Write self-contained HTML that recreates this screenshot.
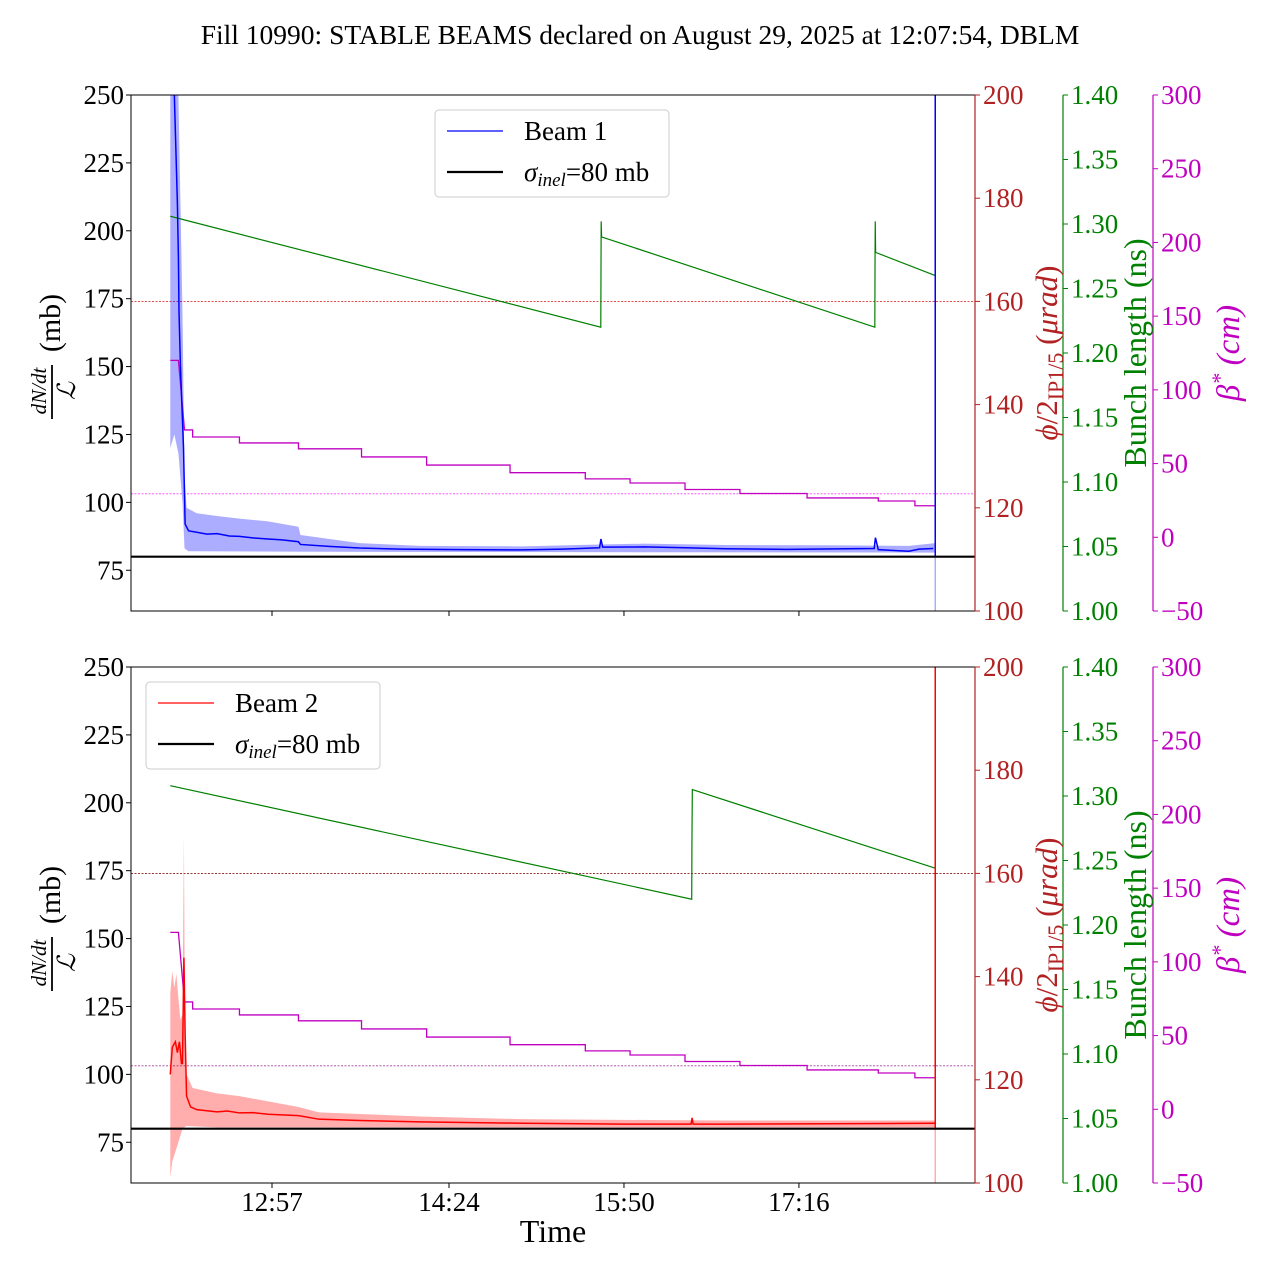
<!DOCTYPE html>
<html><head><meta charset="utf-8">
<style>
html,body{margin:0;padding:0;background:#fff;}
svg{display:block;font-family:"Liberation Serif","DejaVu Serif",serif;}
</style></head>
<body>
<svg id="chart" width="1280" height="1280" viewBox="0 0 1280 1280" xmlns="http://www.w3.org/2000/svg">
<rect width="1280" height="1280" fill="#fff"/>
<text x="640" y="44" font-size="27.5" text-anchor="middle">Fill 10990: STABLE BEAMS declared on August 29, 2025 at 12:07:54, DBLM</text>
<g id="top"></g>
<g id="bot"></g>
<text x="553" y="1242" font-size="32" text-anchor="middle">Time</text>
</svg>
<script>
// ---- data (time in minutes since midnight) ----
const xTickTimes = [777, 864, 950, 1036];
const xTickLabels = ["12:57", "14:24", "15:50", "17:16"];
const leftTicks = [75, 100, 125, 150, 175, 200, 225, 250];
const phiTicks = [100, 120, 140, 160, 180, 200];
const blTicks = [1.00, 1.05, 1.10, 1.15, 1.20, 1.25, 1.30, 1.35, 1.40];
const betaTicks = [-50, 0, 50, 100, 150, 200, 250, 300];
const sigmaInel = 80;
const phiLevel = 160;
const betaLevel = 29.5;

const betaT = [727, 731, 734, 734, 738, 738, 761, 761, 790, 790, 821, 821, 853, 853, 894, 894, 931, 931, 953, 953, 980, 980, 1007, 1007, 1040, 1040, 1075, 1075, 1093, 1093, 1103];
const betaV = [120, 120, 72.8, 72.8, 72.8, 68, 68, 64, 64, 60, 60, 54.5, 54.5, 49, 49, 43.8, 43.8, 39.6, 39.6, 36.8, 36.8, 32.4, 32.4, 29.7, 29.7, 26.7, 26.7, 24.6, 24.6, 21.4, 21.4];

const bl1T = [727, 938.6, 938.7, 938.8, 939.0, 1073.3, 1073.4, 1073.5, 1073.7, 1103];
const bl1V = [1.306, 1.220, 1.262, 1.302, 1.290, 1.220, 1.270, 1.302, 1.278, 1.260];
const bl2T = [727, 983.3, 983.4, 983.6, 1103];
const bl2V = [1.308, 1.220, 1.262, 1.305, 1.244];

const b1T = [727, 729, 730.5, 731, 731.3, 732, 733.5, 734.3, 736, 740, 745, 750, 756, 761, 768, 775, 782, 790, 791, 805, 820, 840, 870, 900, 920, 938, 938.7, 939.5, 960, 980, 1000, 1030, 1060, 1073, 1073.6, 1075, 1090, 1095, 1102];
const b1V = [260, 250, 210, 190, 170, 150, 120, 92, 89.5, 89, 88.3, 88.5, 87.6, 87.5, 86.9, 86.5, 86.2, 85.5, 84.5, 83.8, 83.2, 82.8, 82.6, 82.5, 82.8, 83.3, 86.5, 83.5, 83.6, 83.3, 82.9, 82.7, 82.9, 83, 87, 82.6, 82, 82.8, 83];
const b1UpT = [727, 731, 733, 734, 735, 740, 750, 761, 775, 790, 791, 820, 850, 900, 938, 960, 1000, 1050, 1090, 1103];
const b1UpV = [260, 250, 170, 110, 98, 96, 95, 94, 93, 91, 88, 85, 84, 83.8, 84.5, 84.8, 84.3, 84.2, 84, 85];
const b1LoT = [727, 729, 731, 733, 734, 736, 800, 1103];
const b1LoV = [120, 125, 118, 100, 83, 82, 81.8, 81.5];

const b2T = [727, 728, 729.5, 730.5, 731.5, 732.5, 733, 733.7, 734.3, 735, 737, 740, 745, 750, 755, 761, 768, 775, 790, 800, 820, 850, 900, 950, 983, 983.5, 984, 1000, 1050, 1103];
const b2V = [100, 110, 112, 108, 112, 104, 104, 143, 115, 92, 88, 87, 86.6, 86.2, 86.5, 85.8, 85.9, 85.3, 84.8, 83.5, 83, 82.5, 82, 81.7, 81.7, 84, 81.7, 81.7, 81.8, 82];
const b2UpT = [727, 728, 729, 730, 731, 732, 733, 733.7, 734.2, 735, 738, 750, 761, 790, 800, 850, 900, 1000, 1103];
const b2UpV = [130, 138, 132, 137, 128, 120, 122, 188, 120, 100, 95, 93, 92, 88, 86, 84.5, 83.5, 83, 83];
const b2LoT = [727, 728, 731, 733, 735, 750, 1103];
const b2LoV = [62, 68, 75, 80, 81, 80.5, 80.5];
const endTime = 1103;

// ---- helpers ----
const NS = "http://www.w3.org/2000/svg";
const X0 = 131, X1 = 975;
function x(t){ return 272 + (t - 777) * 2.0345; }
function mk(parent, tag, attrs){ const e = document.createElementNS(NS, tag); for (const k in attrs) e.setAttribute(k, attrs[k]); parent.appendChild(e); return e; }
function lin(d0, d1, r0, r1){ return v => r0 + (v - d0) * (r1 - r0) / (d1 - d0); }
function pts(T, V, sy){ return T.map((t, i) => x(t).toFixed(2) + "," + sy(V[i]).toFixed(2)).join(" "); }

function panel(g, Y0, Y1, beam, showX){
  const yL = lin(60, 250, Y1, Y0);
  const yP = lin(100, 200, Y1, Y0);
  const yB = lin(1.0, 1.4, Y1, Y0);
  const yBe = lin(-50, 300, Y1, Y0);
  const clipId = "clip" + beam;
  const defs = mk(g, "defs", {});
  const cp = mk(defs, "clipPath", {id: clipId});
  mk(cp, "rect", {x: X0, y: Y0, width: X1 - X0, height: Y1 - Y0});
  const plot = mk(g, "g", {"clip-path": "url(#" + clipId + ")"});
  
  
  const col = beam === 1 ? "#0000ff" : "#ff0000";
  const band = beam === 1 ? "rgba(0,0,255,0.32)" : "rgba(255,0,0,0.32)";
  const upT = beam === 1 ? b1UpT : b2UpT, upV = beam === 1 ? b1UpV : b2UpV;
  const loT = beam === 1 ? b1LoT : b2LoT, loV = beam === 1 ? b1LoV : b2LoV;
  const lT = beam === 1 ? b1T : b2T, lV = beam === 1 ? b1V : b2V;

  const dl1 = mk(plot, "line", {x1: X0, x2: X1, y1: yP(phiLevel), y2: yP(phiLevel), stroke: beam === 1 ? "#e03030" : "#8b1a1a", "stroke-width": 0.9, "stroke-dasharray": "2,1.5"});
  
  
  const dl2 = mk(plot, "line", {x1: X0, x2: X1, y1: yBe(betaLevel), y2: yBe(betaLevel), stroke: beam === 1 ? "#ff40ff" : "#a040a0", "stroke-width": 0.9, "stroke-dasharray": "2,1.5"});
  
  

  const bandPts = pts(upT, upV, yL) + " " + loT.slice().reverse().map((t, i) => { const v = loV[loV.length - 1 - i]; return x(t).toFixed(2) + "," + yL(v).toFixed(2); }).join(" ");
  const bp = mk(plot, "polygon", {points: bandPts, fill: band, stroke: "none"});
  
  
  const endL = mk(plot, "line", {x1: x(endTime), x2: x(endTime), y1: yL(80), y2: Y1, stroke: band, "stroke-width": 1.5});
  
  

  const bl = mk(plot, "polyline", {points: pts(beam === 1 ? bl1T : bl2T, beam === 1 ? bl1V : bl2V, yB), fill: "none", stroke: "#008000", "stroke-width": 1.2});
  
  
  const be = mk(plot, "polyline", {points: pts(betaT, betaV, yBe), fill: "none", stroke: "#c000c0", "stroke-width": 1.3});
  
  
  const ml = mk(plot, "polyline", {points: pts(lT, lV, yL), fill: "none", stroke: col, "stroke-width": 1.5});
  
  
  const ev = mk(plot, "line", {x1: x(endTime), x2: x(endTime), y1: Y0, y2: yL(80), stroke: col, "stroke-width": 1.5});
  
  
  const sl = mk(plot, "line", {x1: X0, x2: X1, y1: yL(sigmaInel), y2: yL(sigmaInel), stroke: "#000", "stroke-width": 2.2});
  
  

  const fr = mk(g, "rect", {x: X0, y: Y0, width: X1 - X0, height: Y1 - Y0, fill: "none", stroke: "#000", "stroke-width": 1});
  
  
  mk(g, "line", {x1: X1, x2: X1, y1: Y0, y2: Y1, stroke: "#b22222", "stroke-width": 1.2});
  mk(g, "line", {x1: 1063, x2: 1063, y1: Y0, y2: Y1, stroke: "#008000", "stroke-width": 1.2});
  mk(g, "line", {x1: 1153, x2: 1153, y1: Y0, y2: Y1, stroke: "#c000c0", "stroke-width": 1.2});

  leftTicks.forEach(v => {
    const y = yL(v);
    mk(g, "line", {x1: X0 - 5, x2: X0, y1: y, y2: y, stroke: "#000"});
    const t = mk(g, "text", {x: X0 - 7, y: y + 9, "font-size": 27, "text-anchor": "end"});
    t.textContent = v;
    
    
  });
  function rightAxis(ticks, sy, ax, color, fmt, nm){
    ticks.forEach(v => {
      const y = sy(v);
      mk(g, "line", {x1: ax, x2: ax + 5, y1: y, y2: y, stroke: color});
      const t = mk(g, "text", {x: ax + 8, y: y + 9, "font-size": 27, fill: color});
      t.textContent = fmt(v);
      
      
    });
  }
  rightAxis(phiTicks, yP, X1, "#b22222", v => v, 'phi-tick-label');
  rightAxis(blTicks, yB, 1063, "#008000", v => v.toFixed(2), 'bunch-length-tick-label');
  rightAxis(betaTicks, yBe, 1153, "#c000c0", v => v < 0 ? "\u2212" + (-v) : v, 'beta-tick-label');

  xTickTimes.forEach((tt, i) => {
    mk(g, "line", {x1: x(tt), x2: x(tt), y1: Y1, y2: Y1 + 5, stroke: "#000"});
    if (showX){
      const t = mk(g, "text", {x: x(tt), y: Y1 + 28, "font-size": 27, "text-anchor": "middle"});
      t.textContent = xTickLabels[i];
      
      
    }
  });

  const cy = (Y0 + Y1) / 2;
  const lt = mk(g, "g", {transform: "translate(53," + cy + ") rotate(-90)"});
  
  
  const a = mk(lt, "text", {x: -38, y: -7, "font-size": 21, "font-style": "italic", "text-anchor": "middle"}); a.textContent = "dN/dt";
  mk(lt, "line", {x1: -66, x2: -12, y1: -1, y2: -1, stroke: "#000", "stroke-width": 1.8});
  const b = mk(lt, "text", {x: -38, y: 22, "font-size": 25, "font-style": "italic", "text-anchor": "middle"}); b.textContent = "\u2112";
  const c = mk(lt, "text", {x: 30, y: 7, "font-size": 30, "text-anchor": "middle"}); c.textContent = "(mb)";

  const rt = mk(g, "text", {transform: "translate(1057," + cy + ") rotate(-90)", "font-size": 31, fill: "#b22222", "text-anchor": "middle"});
  
  
  rt.innerHTML = '<tspan font-style="italic">\u03d5</tspan>/2<tspan font-size="22" dy="6">IP1/5</tspan><tspan dy="-6"> (</tspan><tspan font-style="italic">\u03bcrad</tspan>)';
  const gt = mk(g, "text", {transform: "translate(1146," + cy + ") rotate(-90)", "font-size": 32, fill: "#008000", "text-anchor": "middle"});
  gt.textContent = "Bunch length (ns)";
  
  
  const mt = mk(g, "text", {transform: "translate(1239," + cy + ") rotate(-90)", "font-size": 33, fill: "#c000c0", "text-anchor": "middle", "font-style": "italic"});
  mt.innerHTML = '\u03b2<tspan font-size="22" dy="-12">*</tspan><tspan dy="12"> (cm)</tspan>';
  
  

  const lx = beam === 1 ? 435 : 146, ly = beam === 1 ? 110 : 682;
  const lg = mk(g, "g", {});
  
  
  mk(lg, "rect", {x: lx, y: ly, width: 234, height: 87, rx: 4, fill: "#fff", stroke: "#ccc", "stroke-width": 1});
  mk(lg, "line", {x1: lx + 12, x2: lx + 68, y1: ly + 21, y2: ly + 21, stroke: col, "stroke-width": 1.2});
  const t1 = mk(lg, "text", {x: lx + 89, y: ly + 30, "font-size": 27}); t1.textContent = "Beam " + beam;
  
  
  mk(lg, "line", {x1: lx + 12, x2: lx + 68, y1: ly + 62, y2: ly + 62, stroke: "#000", "stroke-width": 2.2});
  const t2 = mk(lg, "text", {x: lx + 89, y: ly + 71, "font-size": 27});
  t2.innerHTML = '<tspan font-style="italic">\u03c3</tspan><tspan font-size="19" dy="5" font-style="italic">inel</tspan><tspan dy="-5">=80 mb</tspan>';
  
  
}
panel(document.getElementById("top"), 95, 611, 1, false);
panel(document.getElementById("bot"), 667, 1183, 2, true);
</script>
</body></html>
